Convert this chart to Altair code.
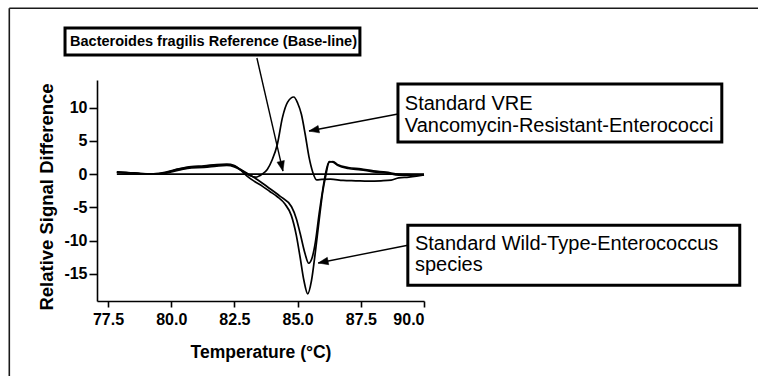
import math
import altair as alt
import pandas as pd

# ---------------- data ----------------
temp_base = [77.85, 90.0]
sig_base = [0.0, 0.0]

temp_vre = [77.85, 78.3, 78.8, 79.3, 79.8, 80.3, 80.8, 81.3, 81.8, 82.2, 82.5, 82.8,
            83.1, 83.35, 83.6, 83.8, 84.0, 84.2, 84.4, 84.6, 84.85, 85.0, 85.15, 85.3,
            85.45, 85.6, 85.75, 85.95, 86.3, 86.8, 87.3, 87.8, 88.3, 88.7, 89.0, 89.4,
            89.7, 90.0]
sig_vre = [0.3, 0.2, 0.1, 0.0, 0.15, 0.6, 0.95, 1.0, 1.2, 1.3, 1.1, 0.5,
           -0.2, -0.45, 0.0, 0.7, 2.2, 4.5, 8.5, 10.8, 11.6, 10.7, 9.0, 6.0,
           2.6, 0.3, -0.85, -0.8, -0.75, -0.95, -1.0, -1.05, -1.0, -0.9, -0.55, -0.45,
           -0.3, -0.1]

temp_wt_a = [77.85, 78.3, 78.8, 79.3, 79.8, 80.3, 80.8, 81.3, 81.8, 82.2, 82.5, 82.75,
             83.0, 83.3, 83.6, 83.9, 84.2, 84.5, 84.75, 84.95, 85.1, 85.25, 85.4, 85.55,
             85.7, 85.85, 86.0, 86.1, 86.25, 86.4, 86.6, 87.0, 87.5, 88.0, 88.5, 89.0,
             89.5, 90.0]
sig_wt_a = [0.35, 0.25, 0.1, 0.05, 0.3, 0.8, 1.15, 1.25, 1.45, 1.5, 1.3, 0.6,
            -0.3, -1.1, -1.8, -2.6, -3.4, -4.5, -6.2, -9.2, -12.5, -16.0, -18.0, -16.0,
            -11.8, -7.0, -2.5, -0.5, 1.8, 1.9, 1.4, 1.0, 0.8, 0.5, 0.3, 0.0,
            -0.05, -0.1]

temp_wt_b = [77.85, 78.3, 78.8, 79.3, 79.8, 80.3, 80.8, 81.3, 81.8, 82.2, 82.5, 82.8,
             83.1, 83.4, 83.8, 84.3, 84.76, 84.95, 85.1, 85.29, 85.44, 85.58, 85.7, 85.85,
             86.0, 86.1, 86.25, 86.4, 86.6, 87.0, 87.5, 88.0, 88.5, 89.0, 89.5, 90.0]
sig_wt_b = [0.25, 0.15, 0.05, 0.0, 0.25, 0.75, 1.05, 1.15, 1.35, 1.4, 1.2, 0.6,
            -0.1, -0.8, -1.9, -3.3, -4.9, -6.7, -8.9, -11.9, -13.4, -12.5, -10.3, -6.0,
            -2.2, 0.0, 1.9, 1.8, 1.3, 0.85, 0.65, 0.35, 0.2, -0.15, -0.15, -0.05]

x_ticks = [77.5, 80.0, 82.5, 85.0, 87.5, 90.0]
y_ticks = [-15, -10, -5, 0, 5, 10]

# annotations (in data units: temperature, signal)
box_t1 = [75.80, 88.97, 89.36]
box_t2 = [87.465, 101.78, 102.49]
box_v1 = [21.99, 13.56, -7.68]
box_v2 = [17.93, 4.82, -16.71]

arrow_t1 = [83.39, 88.97, 89.36]
arrow_v1 = [17.47, 9.04, -10.69]
arrow_t2 = [84.42, 85.45, 85.815]
arrow_v2 = [0.46, 6.48, -13.36]

label_bold = ["Bacteroides fragilis Reference (Base-line)"]
label_bold_t = [76.0]
label_bold_v = [19.81]

label_text = ["Standard VRE", "Vancomycin-Resistant-Enterococci",
              "Standard Wild-Type-Enterococcus", "species"]
label_t = [89.24, 89.24, 89.64, 89.64]
label_v = [10.55, 7.23, -10.54, -13.70]

# ---------------- layout ----------------
W, H = 327, 221
X_DOM = [77.065, 90.0]
Y_DOM = [-19.08, 14.16]
FONT = "Liberation Sans"

xs = alt.Scale(domain=X_DOM, nice=False, zero=False)
ys = alt.Scale(domain=Y_DOM, nice=False, zero=False)

x_axis = alt.Axis(values=x_ticks, labelExpr="format(datum.value, '.1f')",
                  title="Temperature (°C)", tickSize=6, labelPadding=4,
                  titleX=163.5, titleY=56, titleAlign="center",
                  titleBaseline="alphabetic", titleFontSize=17.5)
y_axis = alt.Axis(values=y_ticks, labelExpr="'' + datum.value",
                  title="Relative Signal Difference", tickSize=8,
                  labelPadding=2, titleAngle=270, titleX=-44.7, titleY=116.5,
                  titleAlign="center", titleBaseline="alphabetic",
                  titleFontSize=18.5)


def X(field):
    return alt.X(field, scale=xs, axis=x_axis, title="Temperature (°C)")


def Y(field):
    return alt.Y(field, scale=ys, axis=y_axis, title="Relative Signal Difference")


rows = []
for name, ts, vs in [("Bacteroides fragilis", temp_base, sig_base),
                     ("VRE", temp_vre, sig_vre),
                     ("Wild-type A", temp_wt_a, sig_wt_a),
                     ("Wild-type B", temp_wt_b, sig_wt_b)]:
    for i, (t, v) in enumerate(zip(ts, vs)):
        rows.append({"series": name, "i": i, "t": t, "v": v})
curves = pd.DataFrame(rows)

lines = alt.Chart(curves).mark_line(
    color="black", strokeWidth=1.7, interpolate="monotone"
).encode(x=X("t:Q"), y=Y("v:Q"), detail="series:N", order="i:Q")

# arrows
px_per_t = W / (X_DOM[1] - X_DOM[0])
px_per_v = H / (Y_DOM[1] - Y_DOM[0])
arr = pd.DataFrame({"t": arrow_t1, "v": arrow_v1, "t2": arrow_t2, "v2": arrow_v2})
arr["ang"] = [
    (math.degrees(math.atan2((b - a) * px_per_t, (d - c) * px_per_v)) + 360) % 360
    for a, b, c, d in zip(arrow_t1, arrow_t2, arrow_v1, arrow_v2)
]

shafts = alt.Chart(arr).mark_rule(color="black", strokeWidth=1.4).encode(
    x=X("t:Q"), y=Y("v:Q"), x2="t2:Q", y2="v2:Q")

heads = alt.Chart(arr).mark_point(
    shape="M0,0L0.75,2L-0.75,2Z", filled=True, fill="black", stroke="black",
    strokeWidth=0.5, size=100, opacity=1
).encode(x=X("t2:Q"), y=Y("v2:Q"), angle=alt.Angle("ang:Q", scale=None))

boxes_df = pd.DataFrame({"t": box_t1, "t2": box_t2, "v": box_v1, "v2": box_v2})
boxes = alt.Chart(boxes_df).mark_rect(fill="white", stroke="black", strokeWidth=3).encode(
    x=X("t:Q"), x2="t2:Q", y=Y("v:Q"), y2="v2:Q")

bold_df = pd.DataFrame({"t": label_bold_t, "v": label_bold_v, "txt": label_bold})
bold_text = alt.Chart(bold_df).mark_text(
    align="left", baseline="middle", font=FONT, fontWeight="bold", fontSize=14.5,
    color="black").encode(x=X("t:Q"), y=Y("v:Q"), text="txt:N")

norm_df = pd.DataFrame({"t": label_t, "v": label_v, "txt": label_text})
norm_text = alt.Chart(norm_df).mark_text(
    align="left", baseline="middle", font=FONT, fontSize=20, color="black").encode(
    x=X("t:Q"), y=Y("v:Q"), text="txt:N")

# outer frame of the figure (top and left edges)
frame_data = alt.Data(values=[{}])
frame_top = alt.Chart(frame_data).mark_rule(color="#1a1a1a", strokeWidth=1.6).encode(
    x=alt.value(-87.7), x2=alt.value(700), y=alt.value(-71.7))
frame_left = alt.Chart(frame_data).mark_rule(color="#1a1a1a", strokeWidth=1.6).encode(
    x=alt.value(-87.7), y=alt.value(-71.7), y2=alt.value(320))

chart = alt.layer(
    lines, shafts, heads, boxes, bold_text, norm_text, frame_top, frame_left
).properties(
    width=W, height=H,
    autosize=alt.AutoSizeParams(type="none"),
    padding={"left": 97, "top": 80, "right": 758 - 97 - W, "bottom": 376 - 80 - H},
    background="white",
).configure_view(
    strokeWidth=0
).configure_axis(
    grid=False, domainColor="black", domainWidth=1.6, tickColor="black", tickWidth=1.6,
    labelFont=FONT, labelFontWeight="bold", labelFontSize=16, labelColor="black",
    titleFont=FONT, titleFontWeight="bold", titleColor="black",
)

chart.save("out.html", embed_options={"renderer": "svg", "actions": False})
